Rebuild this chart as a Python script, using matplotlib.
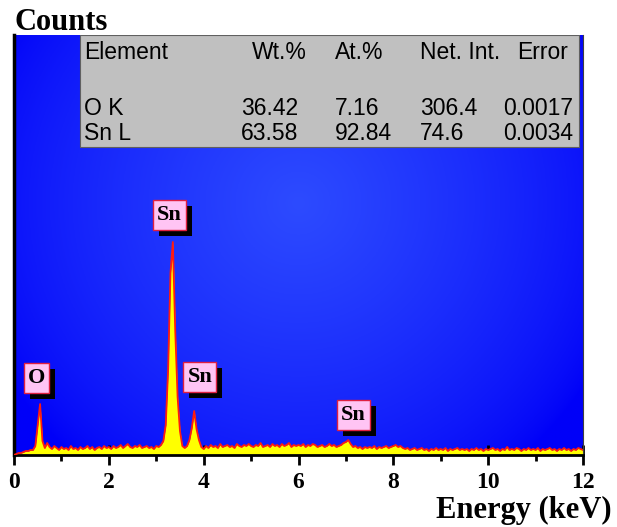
import numpy as np
import matplotlib.pyplot as plt
from matplotlib.patches import Rectangle

# EDX spectrum, one count value every 0.05 keV from 0 to 12 keV
step = 0.05
counts = [
    0, 1, 2, 2, 3, 4, 4, 5, 5, 9,            # 0.00 - 0.45
    30, 51, 14, 7, 12, 8, 6, 9, 7, 5,        # 0.50 - 0.95
    8, 6, 7, 5, 9, 6, 7, 5, 8, 6,            # 1.00 - 1.45
    7, 9, 6, 8, 5, 7, 8, 6, 9, 7,            # 1.50 - 1.95
    8, 6, 9, 7, 8, 10, 7, 9, 11, 8,          # 2.00 - 2.45
    7, 9, 8, 10, 7, 8, 9, 7, 8, 6,           # 2.50 - 2.95
    9, 8, 10, 14, 30, 85, 182, 213, 125, 58,  # 3.00 - 3.45
    24, 9, 7, 9, 15, 27, 44, 26, 15, 8,      # 3.50 - 3.95
    6, 9, 7, 10, 8, 9, 7, 11, 8, 9,          # 4.00 - 4.45
    10, 8, 9, 7, 11, 9, 8, 10, 9, 11,        # 4.50 - 4.95
    9, 8, 10, 9, 12, 8, 9, 10, 8, 11,        # 5.00 - 5.45
    9, 10, 8, 11, 9, 10, 12, 8, 10, 9,       # 5.50 - 5.95
    10, 9, 11, 8, 10, 9, 11, 10, 8, 9,       # 6.00 - 6.45
    10, 8, 9, 11, 9, 10, 8, 9, 10, 12,       # 6.50 - 6.95
    13, 15, 11, 8, 9, 7, 8, 6, 8, 7,         # 7.00 - 7.45
    8, 7, 9, 6, 8, 7, 8, 9, 7, 8,            # 7.50 - 7.95
    9, 10, 8, 9, 7, 6, 7, 5, 6, 7,           # 8.00 - 8.45
    5, 6, 7, 5, 6, 4, 6, 5, 7, 5,            # 8.50 - 8.95
    6, 5, 7, 4, 6, 5, 6, 7, 5, 6,            # 9.00 - 9.45
    5, 6, 4, 6, 5, 7, 5, 6, 4, 6,            # 9.50 - 9.95
    5, 6, 7, 5, 6, 4, 6, 5, 8, 5,            # 10.00 - 10.45
    6, 5, 7, 6, 4, 6, 5, 7, 5, 6,            # 10.50 - 10.95
    5, 7, 4, 6, 5, 6, 7, 5, 6, 4,            # 11.00 - 11.45
    6, 5, 7, 5, 6, 4, 6, 5, 7, 6,            # 11.50 - 11.95
    5,                                       # 12.00
]
energy = np.arange(len(counts)) * step

# peak labels: text, energy, height
peak_names = ['O', 'Sn', 'Sn', 'Sn']
peak_x = [0.47, 3.27, 3.92, 7.15]
peak_y = [77, 240, 78, 40]

# quantification table
elements = ['O K', 'Sn L']
wt_pct = [36.42, 63.58]
at_pct = [7.16, 92.84]
net_int = [306.4, 74.6]
error = [0.0017, 0.0034]

W, H = 617, 527
fig = plt.figure(figsize=(W / 100, H / 100), dpi=100)
ax = fig.add_axes([14 / W, 1 - 455 / H, 569 / W, 420 / H])
ax.set_xlim(0, 12)
ax.set_ylim(0, 420)
kx = 569 / 12   # pixels per keV (y axis is one count per pixel)

# blue gradient background
gx, gy = np.meshgrid(np.linspace(0, 1, 300), np.linspace(0, 1, 300))
r = np.sqrt(((gx - 0.5) / 0.6) ** 2 + ((gy - 0.6) / 0.8) ** 2)
t = np.clip(1 - r, 0, 1) ** 0.7
center = np.array([45, 75, 255]) / 255
edge = np.array([0, 0, 248]) / 255
bg = edge + (center - edge) * t[..., None]
ax.imshow(bg, extent=[0, 12, 0, 420], origin='lower', aspect='auto', zorder=0)

ax.fill_between(energy, counts, color='#ffff00', lw=0, zorder=2)
ax.plot(energy, counts, color='#ff1a10', lw=1.3, zorder=3)

# table in the upper part of the plot
ax.add_patch(Rectangle((66 / 569, 1 - 112 / 420), 499 / 569, 112 / 420,
                       transform=ax.transAxes, facecolor='#c0c0c0',
                       edgecolor='#606060', lw=0.8, zorder=4))

def ftext(px, py, s, **kw):
    fig.text(px / W, 1 - py / H, s, **kw)

tkw = dict(family='Liberation Sans', fontsize=16.5, va='baseline', zorder=5)
ftext(84, 59, 'Element', ha='left', **tkw)
ftext(307, 59, 'Wt.%', ha='right', **tkw)
ftext(335, 59, 'At.%', ha='left', **tkw)
ftext(420, 59, 'Net. Int.', ha='left', **tkw)
ftext(517, 59, 'Error', ha='left', **tkw)
for i, name in enumerate(elements):
    yb = 115 + 25 * i
    ftext(84, yb, name, ha='left', **tkw)
    ftext(298, yb, f'{wt_pct[i]:.2f}', ha='right', **tkw)
    ftext(335, yb, f'{at_pct[i]:.2f}', ha='left', **tkw)
    ftext(420, yb, f'{net_int[i]:.1f}', ha='left', **tkw)
    ftext(503, yb, f'{error[i]:.4f}', ha='left', **tkw)

# peak labels: pink box with a black drop shadow
for name, px, py in zip(peak_names, peak_x, peak_y):
    bw = 25 if len(name) == 1 else 33
    bh = 30
    ax.add_patch(Rectangle((px - bw / 2 / kx + 6 / kx, py - bh / 2 - 6), bw / kx, bh,
                           facecolor='black', edgecolor='none', zorder=6))
    ax.add_patch(Rectangle((px - bw / 2 / kx, py - bh / 2), bw / kx, bh,
                           facecolor='#ffc4f4', edgecolor='#e02040', lw=1, zorder=7))
    ax.text(px, py, name, family='Liberation Serif', fontweight='bold', fontsize=16,
            ha='center', va='center', color='black', zorder=8)

ax.set_yticks([])
ax.set_xticks(range(0, 13, 2))
ax.set_xticks(range(1, 13, 2), minor=True)
ax.tick_params(axis='x', which='major', direction='inout', length=15, width=2, pad=5)
ax.tick_params(axis='x', which='minor', direction='out', length=4, width=2)
for lab in ax.get_xticklabels():
    lab.set_family('Liberation Serif')
    lab.set_fontweight('bold')
    lab.set_fontsize(17)

ax.spines['top'].set_visible(False)
ax.spines['left'].set_linewidth(2.5)
ax.spines['bottom'].set_linewidth(2)
ax.spines['right'].set_linewidth(0.8)
ax.spines['right'].set_color('#404040')

ftext(15, 30, 'Counts', family='Liberation Serif', fontweight='bold',
      fontsize=22, ha='left', va='baseline')
ftext(612, 518, 'Energy (keV)', family='Liberation Serif', fontweight='bold',
      fontsize=22, ha='right', va='baseline')

fig.savefig('out.png', dpi=100)
